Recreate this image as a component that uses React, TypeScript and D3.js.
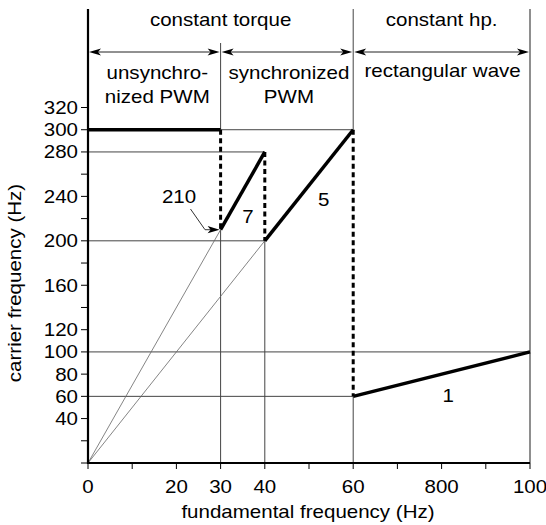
import React from "react";
import * as d3 from "d3";

// ---- data ----
const xTickValues = [0, 10, 20, 30, 40, 50, 60, 70, 80, 90, 100];
const xTickLabels = ["0", "", "20", "30", "40", "", "60", "", "800", "", "100"];
const yTickValues = [0, 20, 40, 60, 80, 100, 120, 140, 160, 180, 200, 220, 240, 260, 280, 300, 320];
const yTickLabels = ["", "", "40", "60", "80", "100", "120", "", "160", "", "200", "", "240", "", "280", "300", "320"];

const unsynchronizedPWM = [{ f: 0, c: 300 }, { f: 30, c: 300 }];
const pulse7 = [{ f: 30, c: 210 }, { f: 40, c: 280 }];
const pulse5 = [{ f: 40, c: 200 }, { f: 60, c: 300 }];
const pulse1 = [{ f: 60, c: 60 }, { f: 100, c: 100 }];
const transitions = [
  { f: 30, from: 300, to: 210 },
  { f: 40, from: 280, to: 200 },
  { f: 60, from: 300, to: 60 },
];
const guideRays = [{ f: 30, c: 210 }, { f: 40, c: 200 }];
const hGrid = [
  { c: 300, f0: 30, f1: 60 },
  { c: 280, f0: 0, f1: 40 },
  { c: 200, f0: 0, f1: 40 },
  { c: 100, f0: 0, f1: 100 },
  { c: 60, f0: 0, f1: 60 },
];
const vGrid = [
  { f: 30, c0: 0, c1: 210 },
  { f: 40, c0: 0, c1: 200 },
  { f: 60, c0: 0, c1: 60 },
];
const seriesLabels = [
  { text: "7", f: 36.2, c: 222 },
  { text: "5", f: 53.3, c: 237 },
  { text: "1", f: 81.5, c: 61 },
];
const controlBounds = [0, 60, 100];
const controlNames = ["constant torque", "constant hp."];
const modeBounds = [0, 30, 60, 100];
const modeNames = [["unsynchro-", "nized PWM"], ["synchronized", "PWM"], ["rectangular wave"]];

const W = 546;
const H = 525;
const FONT = "'Liberation Sans', Arial, Helvetica, sans-serif";
const SX = 1.14;

function T({ x, y, rot = 0, anchor = "middle", children }: { x: number; y: number; rot?: number; anchor?: string; children: React.ReactNode }) {
  return (
    <text
      transform={`translate(${x},${y})${rot ? ` rotate(${rot})` : ""} scale(${SX},1)`}
      textAnchor={anchor}
      fontSize={18}
      fill="#000"
    >
      {children}
    </text>
  );
}

export default function App() {
  const x = d3.scaleLinear().domain([0, 100]).range([88, 530]);
  const y = d3.scaleLinear().domain([0, 320]).range([463, 107.5]);
  const line = d3
    .line<{ f: number; c: number }>()
    .x((d) => x(d.f))
    .y((d) => y(d.c));

  const topY = 9;
  const arrowY = 52;
  const subDividerTop = 43;
  const thin = "#444";

  const arrowHead = (tipX: number, tipY: number, dir: number) => {
    const L = 12;
    const hw = 3.6;
    return `M${tipX},${tipY} L${tipX - dir * L},${tipY - hw} L${tipX - dir * (L - 3)},${tipY} L${tipX - dir * L},${tipY + hw} Z`;
  };

  const p210 = { x: x(30), y: y(210) };

  return (
    <div style={{ position: "absolute", left: 0, top: 0 }}>
      <svg width={W} height={H} style={{ display: "block", background: "#fff" }} fontFamily={FONT}>
        {/* gridlines */}
        {hGrid.map((g, i) => (
          <line key={"h" + i} x1={x(g.f0)} x2={x(g.f1)} y1={y(g.c)} y2={y(g.c)} stroke={thin} strokeWidth={1} />
        ))}
        {vGrid.map((g, i) => (
          <line key={"v" + i} x1={x(g.f)} x2={x(g.f)} y1={y(g.c0)} y2={y(g.c1)} stroke={thin} strokeWidth={1} />
        ))}
        {/* region dividers */}
        <line x1={x(30)} x2={x(30)} y1={subDividerTop} y2={y(300)} stroke={thin} strokeWidth={1} />
        <line x1={x(60)} x2={x(60)} y1={topY} y2={y(300)} stroke={thin} strokeWidth={1} />
        <line x1={x(100)} x2={x(100)} y1={topY} y2={y(0)} stroke={thin} strokeWidth={1.2} />
        {/* guide rays from origin */}
        {guideRays.map((r, i) => (
          <path key={"r" + i} d={line([{ f: 0, c: 0 }, r]) || ""} stroke="#666" strokeWidth={0.8} fill="none" />
        ))}
        {/* dashed transitions */}
        {transitions.map((t, i) => (
          <line
            key={"t" + i}
            x1={x(t.f)}
            x2={x(t.f)}
            y1={y(t.from)}
            y2={y(t.to)}
            stroke="#000"
            strokeWidth={3}
            strokeDasharray="5,3.5"
          />
        ))}
        {/* thick series */}
        {[unsynchronizedPWM, pulse7, pulse5, pulse1].map((s, i) => (
          <path key={"s" + i} d={line(s) || ""} stroke="#000" strokeWidth={3.5} fill="none" strokeLinecap="butt" />
        ))}
        {/* axes */}
        <line x1={x(0)} x2={x(0)} y1={topY} y2={y(0) + 1} stroke="#000" strokeWidth={2.2} />
        <line x1={x(0) - 1} x2={x(100)} y1={y(0)} y2={y(0)} stroke="#000" strokeWidth={2.2} />
        {yTickValues.map((v, i) => (
          <g key={"yt" + i}>
            <line x1={x(0) - 7} x2={x(0)} y1={y(v)} y2={y(v)} stroke="#000" strokeWidth={1} />
            {yTickLabels[i] && (
              <T x={78} y={y(v) + 6.5} anchor="end">
                {yTickLabels[i]}
              </T>
            )}
          </g>
        ))}
        {xTickValues.map((v, i) => (
          <g key={"xt" + i}>
            <line x1={x(v)} x2={x(v)} y1={y(0)} y2={y(0) + 6} stroke="#000" strokeWidth={1} />
            {xTickLabels[i] && (
              <T x={x(v)} y={493}>
                {xTickLabels[i]}
              </T>
            )}
          </g>
        ))}
        <T x={308} y={518}>fundamental frequency (Hz)</T>
        <T x={21} y={283} rot={-90}>carrier frequency (Hz)</T>
        {/* header: control regions */}
        {controlNames.map((n, i) => (
          <T key={"cn" + i} x={(x(controlBounds[i]) + x(controlBounds[i + 1])) / 2} y={26}>
            {n}
          </T>
        ))}
        {/* mode arrows */}
        {modeBounds.slice(0, -1).map((b, i) => {
          const a = x(b) + 1;
          const e = x(modeBounds[i + 1]) - 1;
          return (
            <g key={"ma" + i}>
              <line x1={a + 4} x2={e - 4} y1={arrowY} y2={arrowY} stroke="#222" strokeWidth={1} />
              <path d={arrowHead(a, arrowY, -1)} fill="#000" />
              <path d={arrowHead(e, arrowY, 1)} fill="#000" />
            </g>
          );
        })}
        {modeNames.map((lines, i) => {
          const cx = (x(modeBounds[i]) + x(modeBounds[i + 1])) / 2 + (i === 0 ? 3 : i === 1 ? 2 : 1);
          return lines.map((l, j) => (
            <T key={"mn" + i + "-" + j} x={cx} y={(i === 2 ? 77 : 79) + j * 24}>
              {l}
            </T>
          ));
        })}
        {/* series labels */}
        {seriesLabels.map((s, i) => (
          <T key={"sl" + i} x={x(s.f)} y={y(s.c) + 6.5}>
            {s.text}
          </T>
        ))}
        {/* 210 annotation */}
        <T x={179} y={203}>210</T>
        <path
          d={`M190.5,209 L205,${p210.y} L${p210.x - 6},${p210.y}`}
          stroke="#333"
          strokeWidth={1}
          fill="none"
        />
        <path d={arrowHead(p210.x - 1, p210.y, 1)} fill="#000" />
      </svg>
    </div>
  );
}
